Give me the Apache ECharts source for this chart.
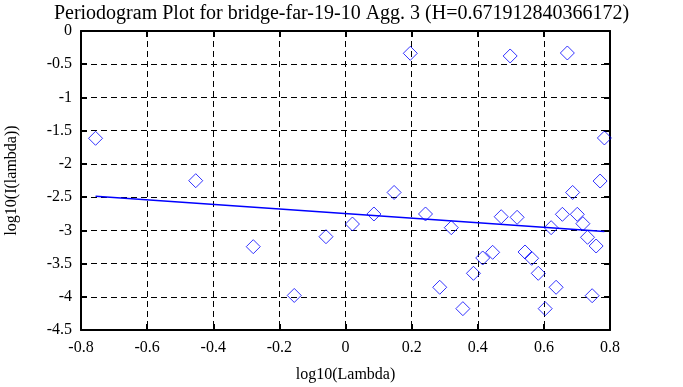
<!DOCTYPE html>
<html><head><meta charset="utf-8">
<script src="https://cdn.jsdelivr.net/npm/echarts@6/dist/echarts.min.js"></script>
<style>html,body{margin:0;padding:0;background:#fff}#c{width:683px;height:387px}</style>
</head><body><div id="c"></div>
<script>
const titleText = 'Periodogram Plot for bridge-far-19-10 Agg. 3 (H=0.671912840366172)';
const xName = 'log10(Lambda)';
const yName = 'log10(I(lambda))';
const logLambda = [-0.756,-0.453,-0.279,-0.155,-0.059,0.021,0.086,0.147,0.196,0.242,0.285,0.320,0.355,0.387,0.415,0.445,0.471,0.498,0.519,0.543,0.563,0.583,0.604,0.622,0.637,0.656,0.671,0.687,0.701,0.718,0.732,0.746,0.758,0.770,0.783];
const logI = [-1.615,-2.253,-3.246,-3.980,-3.096,-2.905,-2.754,-2.430,-0.336,-2.754,-3.857,-2.960,-4.179,-3.647,-3.416,-3.331,-2.795,-0.376,-2.804,-3.326,-3.421,-3.647,-4.179,-2.960,-3.857,-2.759,-0.331,-2.430,-2.759,-2.900,-3.105,-3.984,-3.236,-2.258,-1.610];
const fitX = [-0.756, 0.783];
const fitY = [-2.488, -3.017];

const font = 'Liberation Serif';
const pts = logLambda.map((x,i)=>[x, logI[i]]);
const fit = fitX.map((x,i)=>[x, fitY[i]]);
const chart = echarts.init(document.getElementById('c'), null, {renderer:'canvas'});
const frameLine = {show:true, onZero:false, lineStyle:{color:'#000', width:2}};
const tick = {show:true, inside:true, length:6, lineStyle:{color:'#000', width:2}};
const split = {show:true, lineStyle:{color:'#000', width:1, type:[6,4]}};
chart.setOption({
  animation:false,
  backgroundColor:'#fff',
  title:{text:titleText, left:'center', top:-1, textStyle:{fontFamily:font, fontSize:20, fontWeight:'normal', color:'#000'}},
  grid:{left:81, right:73, top:31, bottom:57, containLabel:false, outerBoundsMode:'none'},
  xAxis:[
    {type:'value', min:-0.8, max:0.8, interval:0.2, position:'bottom',
     axisLine:frameLine, axisTick:tick, splitLine:split,
     axisLabel:{fontFamily:font, fontSize:16, color:'#000', margin:10, formatter:v=>+v.toFixed(1)+''},
     name:xName, nameLocation:'middle', nameGap:37, nameTextStyle:{fontFamily:font, fontSize:16, color:'#000'}},
    {type:'value', min:-0.8, max:0.8, interval:0.2, position:'top',
     axisLine:frameLine, axisTick:tick, splitLine:{show:false}, axisLabel:{show:false}}
  ],
  yAxis:[
    {type:'value', min:-4.5, max:0, interval:0.5, position:'left',
     axisLine:frameLine, axisTick:tick, splitLine:split,
     axisLabel:{fontFamily:font, fontSize:16, color:'#000', margin:9, formatter:v=>+v.toFixed(1)+''},
     name:yName, nameLocation:'middle', nameGap:61, nameTextStyle:{fontFamily:font, fontSize:16, color:'#000'}},
    {type:'value', min:-4.5, max:0, interval:0.5, position:'right',
     axisLine:frameLine, axisTick:tick, splitLine:{show:false}, axisLabel:{show:false}}
  ],
  series:[
    {type:'scatter', data:pts, symbol:'diamond', symbolSize:14, clip:false,
     itemStyle:{color:'rgba(0,0,0,0)', borderColor:'#0000ff', borderWidth:1}},
    {type:'line', data:fit, showSymbol:false, symbol:'none', lineStyle:{color:'#0000ff', width:1.5}}
  ]
});
</script></body></html>
